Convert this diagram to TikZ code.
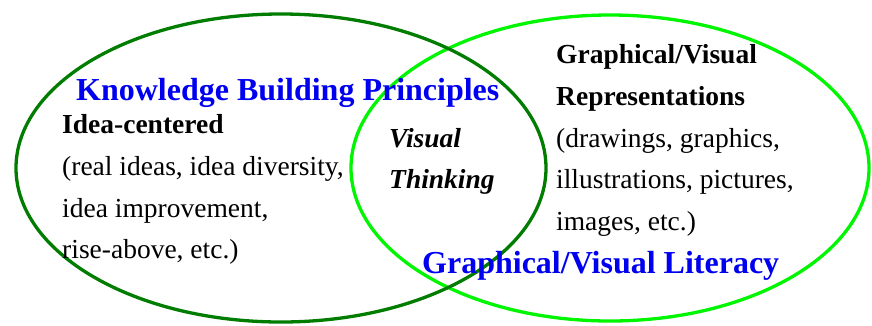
\documentclass[tikz,border=0pt]{standalone}
\usepackage{fontspec}
\setmainfont{Liberation Serif}
\begin{document}
\begin{tikzpicture}[x=1pt,y=-1pt,
  circA/.style={draw=darkgreen,line width=3.3pt},
  circB/.style={draw=brightgreen,line width=3.3pt},
  heading/.style={anchor=base west,inner sep=0pt,text=headblue,font=\fontsize{32}{36}\selectfont\bfseries},
  body/.style={anchor=base west,inner sep=0pt,font=\fontsize{27.5}{30}\selectfont},
  bodybold/.style={body,font=\fontsize{27.5}{30}\selectfont\bfseries},
  bodyemph/.style={body,font=\fontsize{27.5}{30}\selectfont\bfseries\itshape}]
\definecolor{darkgreen}{RGB}{0,125,0}
\definecolor{brightgreen}{RGB}{0,245,0}
\definecolor{headblue}{RGB}{0,0,240}
\useasboundingbox (0,0) rectangle (872,325);
\fill[white] (0,0) rectangle (872,325);

% the two overlapping sets
\draw[circB] (610,168) ellipse [x radius=259, y radius=153];
\draw[circA] (281,168) ellipse [x radius=265, y radius=154];

% left set
\node[heading] (kbp) at (76,100) {Knowledge Building Principles};
\node[bodybold] (idea) at (62,133.5) {Idea-centered};
\node[body] (l1) at (62,175.5) {(real ideas, idea diversity,};
\node[body] (l2) at (62,217) {idea improvement,};
\node[body] (l3) at (62,258.5) {rise-above, etc.)};

% overlap
\node[bodyemph] (vis) at (389,147) {Visual};
\node[bodyemph] (think) at (389,188.5) {Thinking};

% right set
\node[bodybold] (gv) at (556,63.5) {Graphical/Visual};
\node[bodybold] (rep) at (556,105) {Representations};
\node[body] (r1) at (556,147) {(drawings, graphics,};
\node[body] (r2) at (556,188.5) {illustrations, pictures,};
\node[body] (r3) at (556,230) {images, etc.)};
\node[heading] (gvl) at (422,273) {Graphical/Visual Literacy};
\end{tikzpicture}
\end{document}
